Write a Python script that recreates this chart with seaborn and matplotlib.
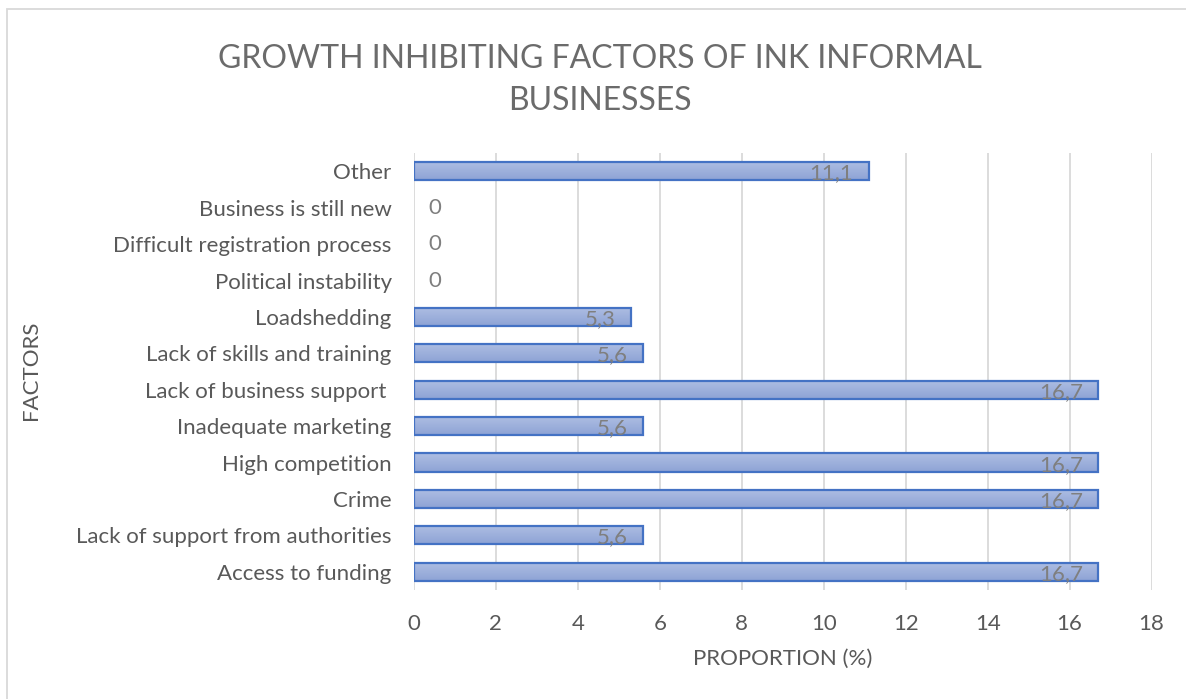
import numpy as np
import pandas as pd
import matplotlib
matplotlib.use("Agg")
import matplotlib.pyplot as plt
from matplotlib.patches import Rectangle
import seaborn as sns

# Data (listed top to bottom as shown)
factors = [
    "Other",
    "Business is still new",
    "Difficult registration process",
    "Political instability",
    "Loadshedding",
    "Lack of skills and training",
    "Lack of business support ",
    "Inadequate marketing",
    "High competition",
    "Crime",
    "Lack of support from authorities",
    "Access to funding",
]
proportions = [11.1, 0, 0, 0, 5.3, 5.6, 16.7, 5.6, 16.7, 16.7, 5.6, 16.7]
x_ticks = [0, 2, 4, 6, 8, 10, 12, 14, 16, 18]

df = pd.DataFrame({"factor": factors, "proportion": proportions})

sns.set_theme(style="white")
plt.rcParams["font.family"] = ["Lato", "DejaVu Sans"]

TEXT = "#595959"
LABEL = "#7f7f7f"
GRID = "#d9d9d9"
FS = 16

fig = plt.figure(figsize=(11.86, 6.99), dpi=100)
ax = fig.add_axes([0.349, 0.156, 0.622, 0.625])

sns.barplot(data=df, x="proportion", y="factor", orient="h", ax=ax,
            color="#9db0dc", linewidth=0, width=0.5, zorder=3)

# vertical gradient fill and outline for each non-empty bar
grad = np.linspace(0, 1, 64).reshape(-1, 1)
cmap = matplotlib.colors.LinearSegmentedColormap.from_list(
    "barfill", ["#aebee3", "#8ea3d5"])
for p in list(ax.patches):
    x0, y0 = p.get_x(), p.get_y()
    w, h = p.get_width(), p.get_height()
    if w <= 0:
        continue
    im = ax.imshow(grad, cmap=cmap, aspect="auto", zorder=3.5,
                   extent=[x0, x0 + w, y0 + h, y0], interpolation="bilinear")
    im.set_clip_path(p)
    ax.add_patch(Rectangle((x0, y0), w, h, fill=False, edgecolor="#4472c4",
                           linewidth=1.6, zorder=4))

ax.set_xlim(0, 18)
ax.set_ylim(len(factors) - 0.5, -0.5)
ax.set_xticks(x_ticks)
ax.set_xticklabels([str(t) for t in x_ticks])
ax.grid(axis="x", color=GRID, linewidth=1.3, zorder=0)
ax.grid(axis="y", visible=False)
for s in ax.spines.values():
    s.set_visible(False)
ax.tick_params(axis="both", length=0, labelsize=FS, colors=TEXT)
ax.tick_params(axis="y", pad=16)
ax.tick_params(axis="x", pad=17)

# value labels, comma decimal separator
for i, v in enumerate(proportions):
    txt = f"{v:.1f}".replace(".", ",") if v != 0 else "0"
    if v > 0:
        ax.text(v - 0.38, i + 0.06, txt, ha="right", va="center", fontsize=FS,
                color=LABEL, zorder=5)
    else:
        ax.text(0.36, i, txt, ha="left", va="center", fontsize=FS,
                color=LABEL, zorder=5)

ax.set_xlabel("PROPORTION (%)", fontsize=FS, color=TEXT, labelpad=11)
ax.set_ylabel("")
fig.text(0.026, 0.47, "FACTORS", rotation=90, ha="center", va="center",
         fontsize=FS, color=TEXT)

fig.text(0.506, 0.885, "GROWTH INHIBITING FACTORS OF INK INFORMAL\nBUSINESSES",
         ha="center", va="center", fontsize=23, color="#6b6b6b", linespacing=1.5)

# chart frame
fig.patches.append(Rectangle((0.006, -0.01), 1.0, 0.997, transform=fig.transFigure,
                             fill=False, edgecolor=GRID, linewidth=1.3))

fig.savefig("out.png", dpi=100, facecolor="white")
